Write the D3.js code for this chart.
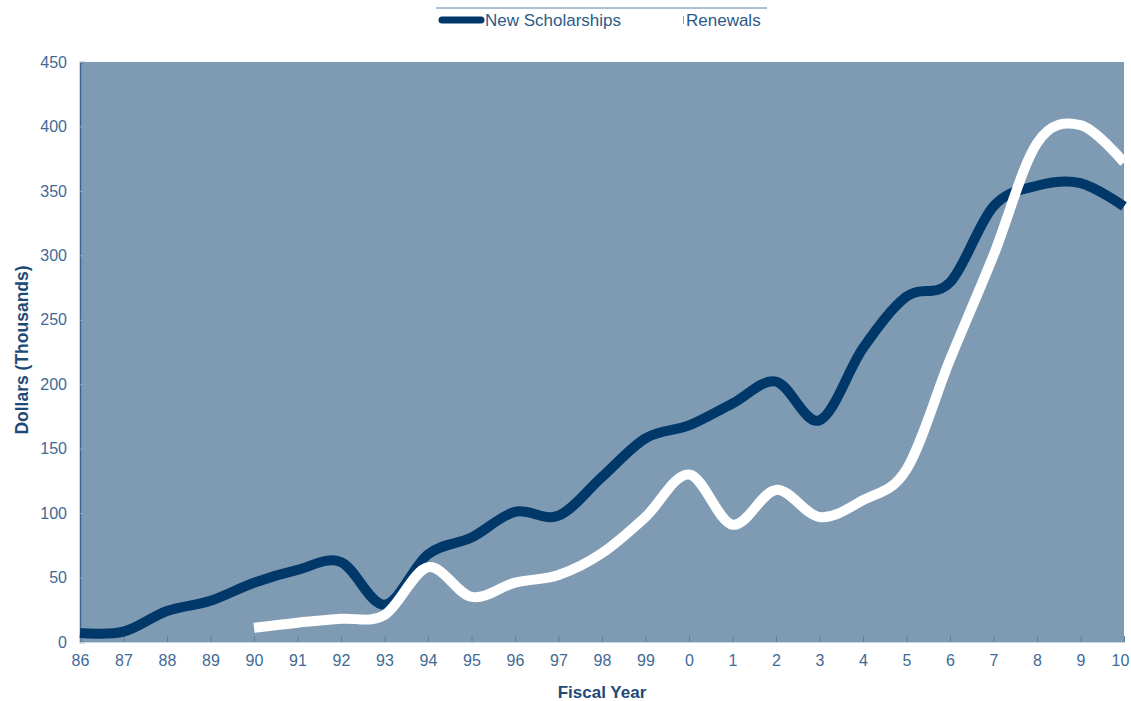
<!doctype html>
<html>
  <head>
    <script src="https://d3js.org/d3.v7.min.js" charset="utf-8"></script>
    <style>
      body { margin: 0; background: #fff; }
      text { font-family: "Liberation Sans", Arial, sans-serif; }
    </style>
  </head>
  <body>
    <script>

// fiscal years, 1986 .. 2010, labelled the way the chart does it
var years = ["86","87","88","89","90","91","92","93","94","95","96","97","98","99",
             "0","1","2","3","4","5","6","7","8","9","10"];

// new scholarships, thousands of dollars, one per year
var newScholarships = [7, 8, 24, 32, 46, 56, 62, 29, 68, 81, 101, 98, 128, 158,
                       168, 185, 202, 172, 228, 268, 279, 338, 354, 356, 338];

// renewals start in 1990
var renewalYears = years.slice(4);
var renewals = [11, 15, 18, 21, 58, 35, 46, 52, 69, 97, 130, 91, 118, 97, 110,
                134, 219, 300, 387, 401, 372];

var yTicks = [0, 50, 100, 150, 200, 250, 300, 350, 400, 450];

var W = 1131, H = 701;
// plot box (note: "top" is taken by window.top, so use other names)
var plotL = 80, plotR = 1124, plotT = 62, plotB = 642;

var svg = d3.select("body")
  .append("svg")
    .attr("width", W)
    .attr("height", H);

var x = d3.scalePoint().domain(years).range([plotL, plotR]);
var y = d3.scaleLinear().domain([0, 450]).range([plotB, plotT]);

// plot background
svg.append("rect")
  .attr("x", plotL)
  .attr("y", plotT)
  .attr("width", plotR - plotL)
  .attr("height", plotB - plotT)
  .attr("fill", "#7f9bb4");

// y axis
var yAxis = svg.append("g")
  .attr("transform", "translate(" + plotL + ",0)")
  .call(d3.axisLeft(y).tickValues(yTicks).tickSize(-5).tickPadding(13));
yAxis.select(".domain").attr("stroke", "#3d6690").attr("stroke-width", 1.5);
yAxis.selectAll(".tick line").attr("stroke", "#8aa3bb");
yAxis.selectAll(".tick text")
  .attr("fill", "#3f6a95")
  .style("font-size", "16px")
  .style("font-family", "'Liberation Sans', Arial, sans-serif");

// x axis
var xAxis = svg.append("g")
  .attr("transform", "translate(0," + plotB + ")")
  .call(d3.axisBottom(x).tickSize(-6).tickPadding(13));
xAxis.select(".domain").attr("stroke", "#c8d4e0");
xAxis.selectAll(".tick line").attr("stroke", "#5a7ea3");
xAxis.selectAll(".tick text")
  .attr("fill", "#3f6a95")
  .style("font-size", "16px")
  .style("font-family", "'Liberation Sans', Arial, sans-serif");
// last label sits on the right edge, pull it in a little so it is not clipped
xAxis.selectAll(".tick text")
  .filter(function(d) { return d === "10"; })
  .attr("dx", -4);

// lines, smoothed like the original
var line = d3.line()
  .x(function(d) { return x(d.year); })
  .y(function(d) { return y(d.value); })
  .curve(d3.curveCardinal.tension(0));

var newData = years.map(function(yr, i) { return { year: yr, value: newScholarships[i] }; });
var renData = renewalYears.map(function(yr, i) { return { year: yr, value: renewals[i] }; });

svg.append("path")
  .datum(newData)
  .attr("d", line)
  .attr("fill", "none")
  .attr("stroke", "#003869")
  .attr("stroke-width", 10);

svg.append("path")
  .datum(renData)
  .attr("d", line)
  .attr("fill", "none")
  .attr("stroke", "#ffffff")
  .attr("stroke-width", 10);

// axis titles
svg.append("text")
  .attr("transform", "translate(28,350) rotate(-90)")
  .attr("text-anchor", "middle")
  .attr("fill", "#1e4a78")
  .style("font-size", "17.5px")
  .style("font-weight", "bold")
  .text("Dollars (Thousands)");

svg.append("text")
  .attr("x", 602)
  .attr("y", 698)
  .attr("text-anchor", "middle")
  .attr("fill", "#1e4a78")
  .style("font-size", "17px")
  .style("font-weight", "bold")
  .text("Fiscal Year");

// legend
var legend = svg.append("g");
legend.append("line")
  .attr("x1", 436).attr("x2", 767)
  .attr("y1", 8).attr("y2", 8)
  .attr("stroke", "#5b7fa5");
legend.append("line")
  .attr("x1", 442).attr("x2", 481)
  .attr("y1", 20).attr("y2", 20)
  .attr("stroke", "#003869")
  .attr("stroke-width", 7)
  .attr("stroke-linecap", "round");
legend.append("text")
  .attr("x", 485).attr("y", 26)
  .attr("fill", "#2d5a87")
  .style("font-size", "17px")
  .text("New Scholarships");
legend.append("line")
  .attr("x1", 683.5).attr("x2", 683.5)
  .attr("y1", 16).attr("y2", 24)
  .attr("stroke", "#8aa3bb");
legend.append("text")
  .attr("x", 686).attr("y", 26)
  .attr("fill", "#2d5a87")
  .style("font-size", "17px")
  .text("Renewals");

    </script>
  </body>
</html>
